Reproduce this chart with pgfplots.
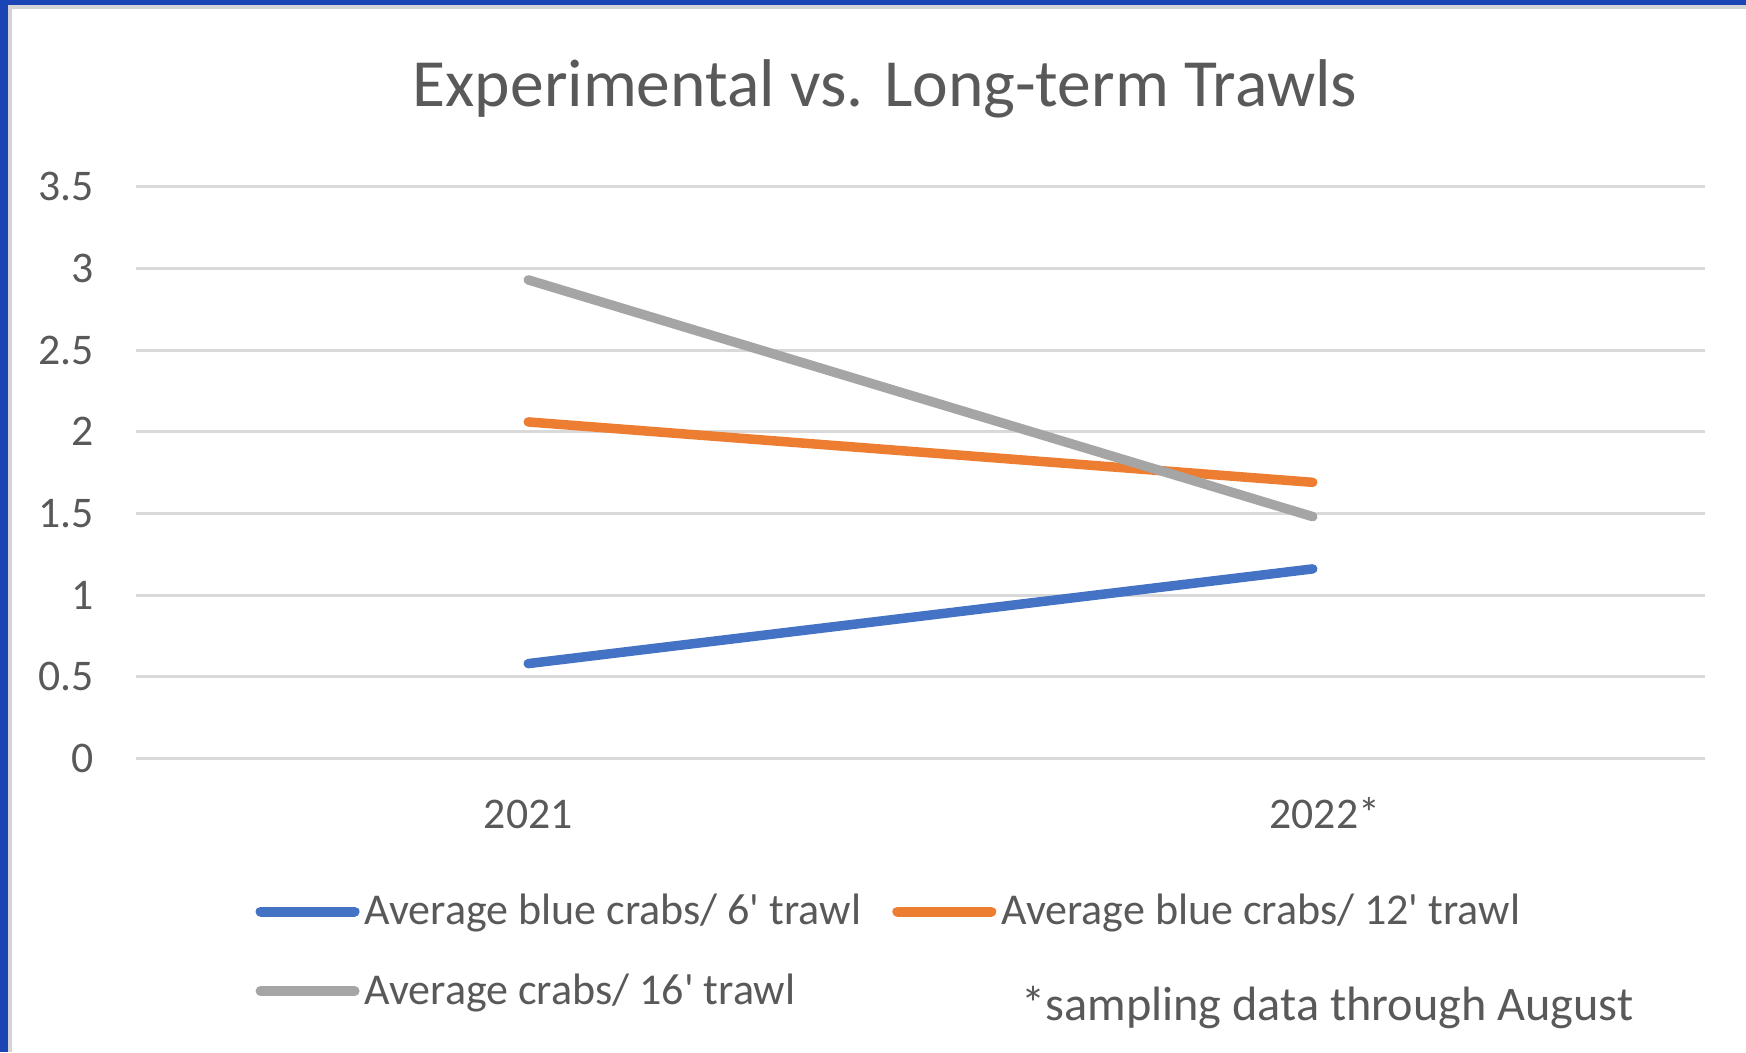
\documentclass[border=0pt]{standalone}
\usepackage{pgfplots}
\pgfplotsset{compat=1.18}
\usepackage{fontspec}
\setmainfont{Carlito}
\definecolor{sblue}{HTML}{4472C4}
\definecolor{sorange}{HTML}{ED7D31}
\definecolor{sgray}{HTML}{A5A5A5}
\definecolor{txt}{HTML}{595959}
\definecolor{gridc}{HTML}{D9D9D9}
\definecolor{frameblue}{HTML}{1B45B5}
\definecolor{framegray}{HTML}{D4D4D4}
\begin{document}
\begin{tikzpicture}
\fill[white] (0pt,0pt) rectangle (698.4pt,420.8pt);
\fill[frameblue] (0pt,0pt) rectangle (3.04pt,420.8pt);
\fill[frameblue] (0pt,418.8pt) rectangle (698.4pt,420.8pt);
\fill[framegray] (3.04pt,0pt) rectangle (4.6pt,418.8pt);
\fill[framegray] (3.04pt,417.08pt) rectangle (698.4pt,418.8pt);
\node[anchor=base, text=txt, font=\fontsize{27}{31}\selectfont, inner sep=0pt] at (354pt,378pt) {Experimental vs. Long-term Trawls};
\begin{axis}[
  at={(54.4pt,117.48pt)}, anchor=south west,
  scale only axis, width=627.6pt, height=228.6pt,
  xmin=-0.5, xmax=1.5, ymin=0, ymax=3.5,
  xtick={0,1}, xticklabels={2021,\hspace{9.6pt}2022*},
  ytick={0,0.5,1,1.5,2,2.5,3,3.5},
  yticklabels={0,0.5,1,1.5,2,2.5,3,3.5},
  axis line style={draw=none},
  major tick length=0pt,
  xmajorgrids=false, ymajorgrids=true,
  grid style={draw=gridc, line width=1.2pt},
  tick label style={text=txt, font=\fontsize{17.5}{20}\selectfont},
  yticklabel style={anchor=east, inner sep=0pt, xshift=-16.8pt},
  xticklabel style={anchor=base, inner sep=0pt, yshift=-27.9pt},
  legend columns=2,
  legend style={at={(0.0759,-0.2285)}, anchor=north west, draw=none, fill=none,
    font=\fontsize{17.6}{20}\selectfont, text=txt, inner sep=0pt, row sep=14.1pt,
    /tikz/every even column/.append style={column sep=10.5pt}},
  legend cell align=left,
  legend image code/.code={\draw[#1, line width=4pt, line cap=round] (2pt,0) -- (39.6pt,0);},
]
\addplot[sblue, line width=3.8pt, line cap=round] coordinates {(0,0.58) (1,1.16)};
\addlegendentry{Average blue crabs/ 6\textquotesingle\ trawl}
\addplot[sorange, line width=3.8pt, line cap=round] coordinates {(0,2.06) (1,1.69)};
\addlegendentry{Average blue crabs/ 12\textquotesingle\ trawl}
\addplot[sgray, line width=3.8pt, line cap=round] coordinates {(0,2.93) (1,1.48)};
\addlegendentry{Average crabs/ 16\textquotesingle\ trawl}
\end{axis}
\node[anchor=base west, text=txt, font=\fontsize{19.3}{22}\selectfont, inner sep=0pt] at (408.4pt,12.8pt) {*sampling data through August};
\end{tikzpicture}
\end{document}
